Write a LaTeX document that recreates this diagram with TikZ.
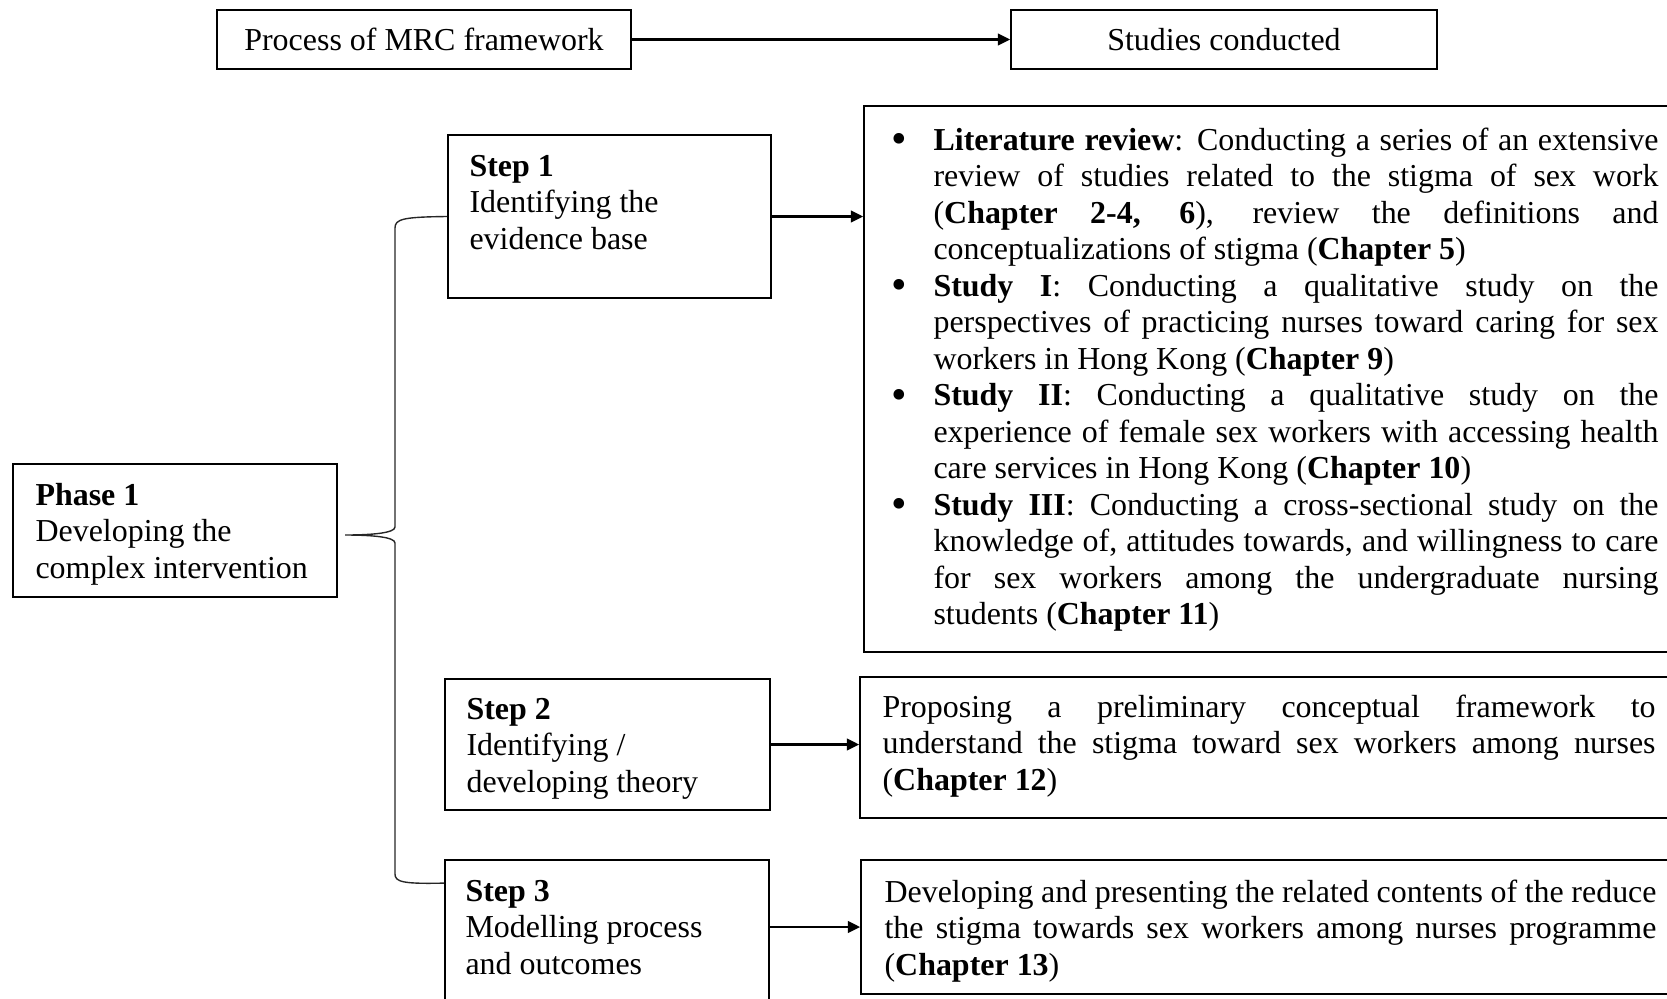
\documentclass[tikz,border=0pt]{standalone}
\usepackage{fontspec}
\setmainfont{Liberation Serif}
\usetikzlibrary{arrows.meta,calc}

% one justified line, one text block whose first baseline is the node's base
\newcommand{\jl}[1]{\makebox[\linewidth][s]{#1}}
\newcommand{\blk}[2]{\parbox[t]{#1}{\fontsize{11.5}{13.15}\selectfont #2}}
\newcommand{\itm}{\leavevmode\llap{\raisebox{-1.3pt}{\fontsize{16}{16}\selectfont\textbullet}\hspace{9.7pt}}}

\tikzset{
  every node/.style={font=\fontsize{11.5}{13.15}\selectfont},
  box/.style 2 args={draw, line width=0.65pt, inner sep=0pt,
    minimum width=#1*0.36pt, minimum height=#2*0.36pt},
  txt/.style={anchor=base west, inner sep=0pt},
  link/.style={line width=0.75pt, -{Triangle[length=4.4pt,width=4.2pt]}},
  bracket/.style={line width=0.5pt, black!85}
}

\begin{document}
\begin{tikzpicture}[x=0.36pt, y=-0.36pt]
\useasboundingbox (0,0) rectangle (1667,998);

% header
\node[box={414}{59}] (proc) at (424,39.5) {Process of MRC framework};
\node[box={426}{59}] (stud) at (1224,39.5) {Studies conducted};
\draw[link] (proc.east) -- (stud.west);

% phase and steps
\node[box={324}{133}] (phase) at (175,530.5) {};
\node[box={323}{163}] (step1) at (609.5,216.5) {};
\node[box={325}{131}] (step2) at (607.5,744.5) {};
\node[box={324}{142}] (step3) at (607,931) {};

\node[txt] (phaset) at (35,505) {\blk{110pt}{\textbf{Phase 1}\\Developing the\\complex intervention}};
\node[txt] (step1t) at (469,176) {\blk{100pt}{\textbf{Step 1}\\Identifying the\\evidence base}};
\node[txt] (step2t) at (466,719) {\blk{100pt}{\textbf{Step 2}\\Identifying /\\developing theory}};
\node[txt] (step3t) at (465,901) {\blk{100pt}{\textbf{Step 3}\\Modelling process\\and outcomes}};

% study boxes
\node[box={806}{546}] (lit) at (1267,379) {};
\node[box={810}{141}] (theory) at (1265,747.5) {};
\node[box={809}{134}] (model) at (1265.5,927) {};

\node[txt] (litt) at (933,150) {\blk{261pt}{%
\itm\jl{\textbf{Literature review}: Conducting a series of an extensive}\\
\jl{review of studies related to the stigma of sex work}\\
\jl{(\textbf{Chapter 2-4, 6}), review the definitions and}\\
conceptualizations of stigma (\textbf{Chapter 5})\\
\itm\jl{\textbf{Study I}: Conducting a qualitative study on the}\\
\jl{perspectives of practicing nurses toward caring for sex}\\
workers in Hong Kong (\textbf{Chapter 9})\\
\itm\jl{\textbf{Study II}: Conducting a qualitative study on the}\\
\jl{experience of female sex workers with accessing health}\\
care services in Hong Kong (\textbf{Chapter 10})\\
\itm\jl{\textbf{Study III}: Conducting a cross-sectional study on the}\\
\jl{knowledge of, attitudes towards, and willingness to care}\\
\jl{for sex workers among the undergraduate nursing}\\
students (\textbf{Chapter 11})}};

\node[txt] (theoryt) at (882,717) {\blk{278.3pt}{%
\jl{Proposing a preliminary conceptual framework to}\\
\jl{understand the stigma toward sex workers among nurses}\\
(\textbf{Chapter 12})}};

\node[txt] (modelt) at (884,902) {\blk{277.9pt}{%
\jl{Developing and presenting the related contents of the reduce}\\
\jl{the stigma towards sex workers among nurses programme}\\
(\textbf{Chapter 13})}};

% step arrows
\draw[link] (step1.east) -- (step1.east -| lit.west);
\draw[link] (step2.east) -- (step2.east -| theory.west);
\draw[link] (model.west -| step3.east) -- (model.west);

% curly bracket from the phase to its steps
\coordinate (tip) at (345,535);
\coordinate (s3in) at ($(step3.north west)+(0,24)$);
\draw[bracket] (step1.west) .. controls (403,217) and (395,219) .. (395,228)
  -- (395,527) .. controls (395,533) and (372,535) .. (tip)
  .. controls (372,535) and (395,537) .. (395,543)
  -- (395,874) .. controls (395,882) and (403,884) .. (s3in);
\end{tikzpicture}
\end{document}
